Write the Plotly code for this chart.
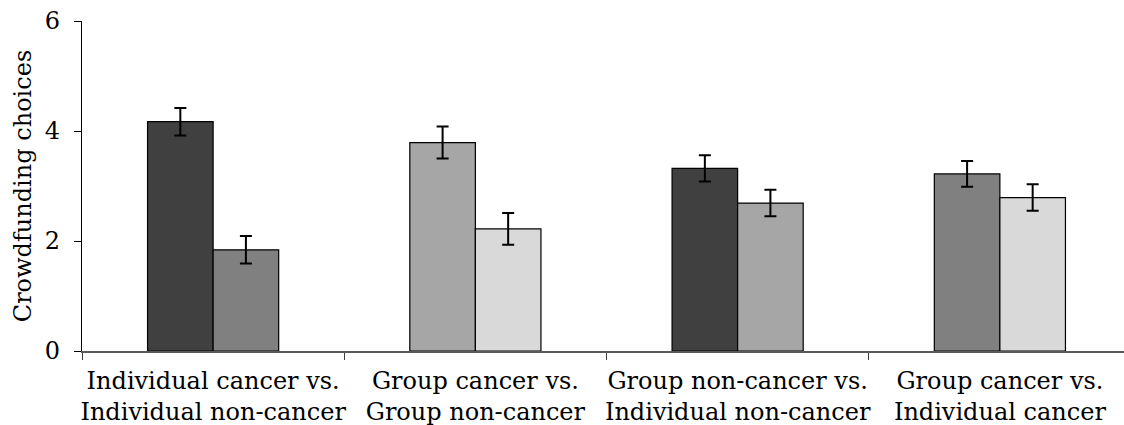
import plotly.graph_objects as go

categories = ["Individual cancer vs.<br>Individual non-cancer",
              "Group cancer vs.<br>Group non-cancer",
              "Group non-cancer vs.<br>Individual non-cancer",
              "Group cancer vs.<br>Individual cancer"]
first_values = [4.17, 3.79, 3.32, 3.22]
first_errors = [0.25, 0.29, 0.24, 0.235]
second_values = [1.84, 2.22, 2.69, 2.79]
second_errors = [0.25, 0.29, 0.24, 0.24]
first_colors = ["#404040", "#a6a6a6", "#404040", "#808080"]
second_colors = ["#808080", "#d9d9d9", "#a6a6a6", "#d9d9d9"]

FONT = "DejaVu Serif"

fig = go.Figure()
for vals, errs, cols in [(first_values, first_errors, first_colors),
                         (second_values, second_errors, second_colors)]:
    fig.add_trace(go.Bar(
        x=categories, y=vals,
        marker=dict(color=cols, line=dict(color="black", width=1.2)),
        error_y=dict(type="data", array=errs, visible=True,
                     color="black", thickness=2, width=6),
        showlegend=False,
    ))

fig.update_layout(
    width=1124, height=425,
    margin=dict(l=82, r=0, t=21, b=74, autoexpand=False),
    plot_bgcolor="white", paper_bgcolor="white",
    barmode="group", bargap=0.5, bargroupgap=0,
    font=dict(family=FONT, size=24, color="black"),
)
fig.update_xaxes(
    range=[-0.5, 3.5 - 7 / 262],
    showline=True, linecolor="#595959", linewidth=1.5,
    ticks="outside", tickson="boundaries", ticklen=7, tickcolor="#404040",
    tickangle=0, automargin=False, ticklabelstandoff=7,
    tickfont=dict(family=FONT, size=24),
    showgrid=False,
)
fig.update_yaxes(
    range=[0, 6], tickvals=[0, 2, 4, 6],
    showline=True, linecolor="black", linewidth=1.2,
    ticks="outside", ticklen=7, tickcolor="black",
    ticklabelstandoff=9, automargin=False,
    tickfont=dict(family=FONT, size=24),
    showgrid=False, zeroline=False,
    title=dict(text="Crowdfunding choices", font=dict(family=FONT, size=24), standoff=6),
)

fig.write_html("out.html", config={"displayModeBar": False},
               post_script="document.body.style.margin='0';document.body.style.overflow='hidden';")
